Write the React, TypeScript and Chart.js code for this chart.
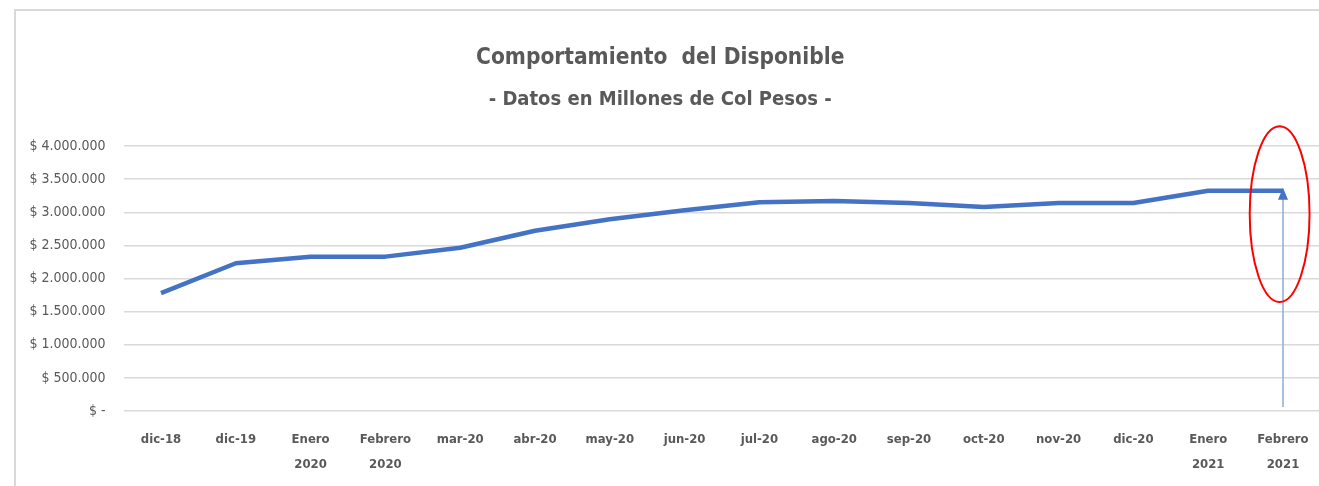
import React, { useEffect, useRef } from "react";
import { Chart, registerables } from "chart.js";

Chart.register(...registerables);

const categories: (string | string[])[] = [
  "dic-18",
  "dic-19",
  ["Enero", "2020"],
  ["Febrero", "2020"],
  "mar-20",
  "abr-20",
  "may-20",
  "jun-20",
  "jul-20",
  "ago-20",
  "sep-20",
  "oct-20",
  "nov-20",
  "dic-20",
  ["Enero", "2021"],
  ["Febrero", "2021"],
];

const disponible: number[] = [
  1780000, 2230000, 2330000, 2330000, 2465000, 2720000, 2895000, 3030000,
  3150000, 3170000, 3140000, 3080000, 3140000, 3140000, 3325000, 3325000,
];

const titleText = "Comportamiento  del Disponible";
const subtitleText = "- Datos en Millones de Col Pesos -";

const yMin = 0;
const yMax = 4000000;
const yStep = 500000;

// annotation (value-space) anchors
const arrowStartValue = 60000;
const ellipseTopValue = 4300000;
const ellipseBottomValue = 1645000;

const FONT = "'DejaVu Sans Condensed', Arial, sans-serif";
const GRAY = "#595959";
const BLUE = "#4472C4";

function formatPesos(v: number): string {
  if (v === 0) return "$ -";
  const s = Math.round(v).toString().replace(/\B(?=(\d{3})+(?!\d))/g, ".");
  return "$ " + s;
}

const annotationPlugin = {
  id: "arrowEllipse",
  afterDatasetsDraw(chart: any) {
    const { ctx, scales } = chart;
    const x = scales.x;
    const y = scales.y;
    const i = categories.length - 1;
    const px = x.getPixelForValue(i);
    const catW = x.getPixelForValue(1) - x.getPixelForValue(0);
    const lineY = y.getPixelForValue(disponible[i]);
    const tipY = lineY - 3;
    const baseY = y.getPixelForValue(arrowStartValue);
    ctx.save();
    ctx.strokeStyle = "#8eaadb";
    ctx.lineWidth = 1.5;
    ctx.beginPath();
    ctx.moveTo(px, baseY);
    ctx.lineTo(px, tipY + 10);
    ctx.stroke();
    ctx.fillStyle = BLUE;
    ctx.beginPath();
    ctx.moveTo(px, tipY);
    ctx.lineTo(px + 5, tipY + 12);
    ctx.lineTo(px - 5, tipY + 12);
    ctx.closePath();
    ctx.fill();
    const top = y.getPixelForValue(ellipseTopValue);
    const bottom = y.getPixelForValue(ellipseBottomValue);
    const cy = (top + bottom) / 2;
    const ry = (bottom - top) / 2;
    const rx = catW * 0.4;
    const cx = px - catW * 0.045;
    ctx.strokeStyle = "#ff0000";
    ctx.lineWidth = 2;
    ctx.beginPath();
    ctx.ellipse(cx, cy, rx, ry, 0, 0, Math.PI * 2);
    ctx.stroke();
    ctx.restore();
  },
};

export default function App() {
  const ref = useRef<HTMLCanvasElement | null>(null);

  useEffect(() => {
    if (!ref.current) return;
    const chart = new Chart(ref.current, {
      type: "line",
      data: {
        labels: categories as any,
        datasets: [
          {
            label: "Disponible",
            data: disponible,
            borderColor: BLUE,
            backgroundColor: BLUE,
            borderWidth: 4.5,
            pointRadius: 0,
            pointHoverRadius: 0,
            tension: 0,
            borderJoinStyle: "round",
            borderCapStyle: "butt",
          },
        ],
      },
      options: {
        responsive: false,
        animation: false,
        layout: { padding: { left: 0, right: 19.6, top: 0, bottom: 0 } },
        plugins: {
          legend: { display: false },
          tooltip: { enabled: false },
          title: {
            display: true,
            text: titleText,
            color: GRAY,
            font: { family: FONT, size: 22.5, weight: "bold", lineHeight: 1.2 },
            padding: { top: 44.5, bottom: 16.5 },
          },
          subtitle: {
            display: true,
            text: subtitleText,
            color: GRAY,
            font: { family: FONT, size: 20, weight: "bold", lineHeight: 1.2 },
            padding: { top: 0, bottom: 34 },
          },
        },
        scales: {
          x: {
            type: "category",
            offset: true,
            grid: { display: false, drawTicks: false },
            border: { display: false },
            ticks: {
              color: GRAY,
              padding: 16.5,
              maxRotation: 0,
              autoSkip: false,
              font: { family: FONT, size: 13, weight: "bold", lineHeight: "25px" },
            },
            afterFit: (scale: any) => {
              scale.height = 75;
            },
          },
          y: {
            min: yMin,
            max: yMax,
            grid: { color: "#d9d9d9", lineWidth: 1.5, drawTicks: false },
            border: { display: false },
            ticks: {
              stepSize: yStep,
              color: GRAY,
              padding: 18,
              font: { family: FONT, size: 14 },
              callback: (v: any) => formatPesos(Number(v)),
            },
            afterFit: (scale: any) => {
              scale.width = 123.6;
            },
          },
        },
      },
      plugins: [annotationPlugin],
    });
    return () => chart.destroy();
  }, []);

  return (
    <div
      style={{
        position: "fixed",
        left: 0,
        top: 0,
        width: 1319,
        height: 486,
        overflow: "hidden",
        background: "#ffffff",
      }}
    >
      <canvas
        ref={ref}
        width={1340}
        height={486}
        style={{ position: "absolute", left: 0, top: 0, width: 1340, height: 486 }}
      />
      <div
        style={{
          position: "absolute",
          left: 14,
          top: 9,
          width: 1400,
          height: 600,
          borderLeft: "2px solid #d9d9d9",
          borderTop: "2px solid #d9d9d9",
          pointerEvents: "none",
        }}
      />
    </div>
  );
}
